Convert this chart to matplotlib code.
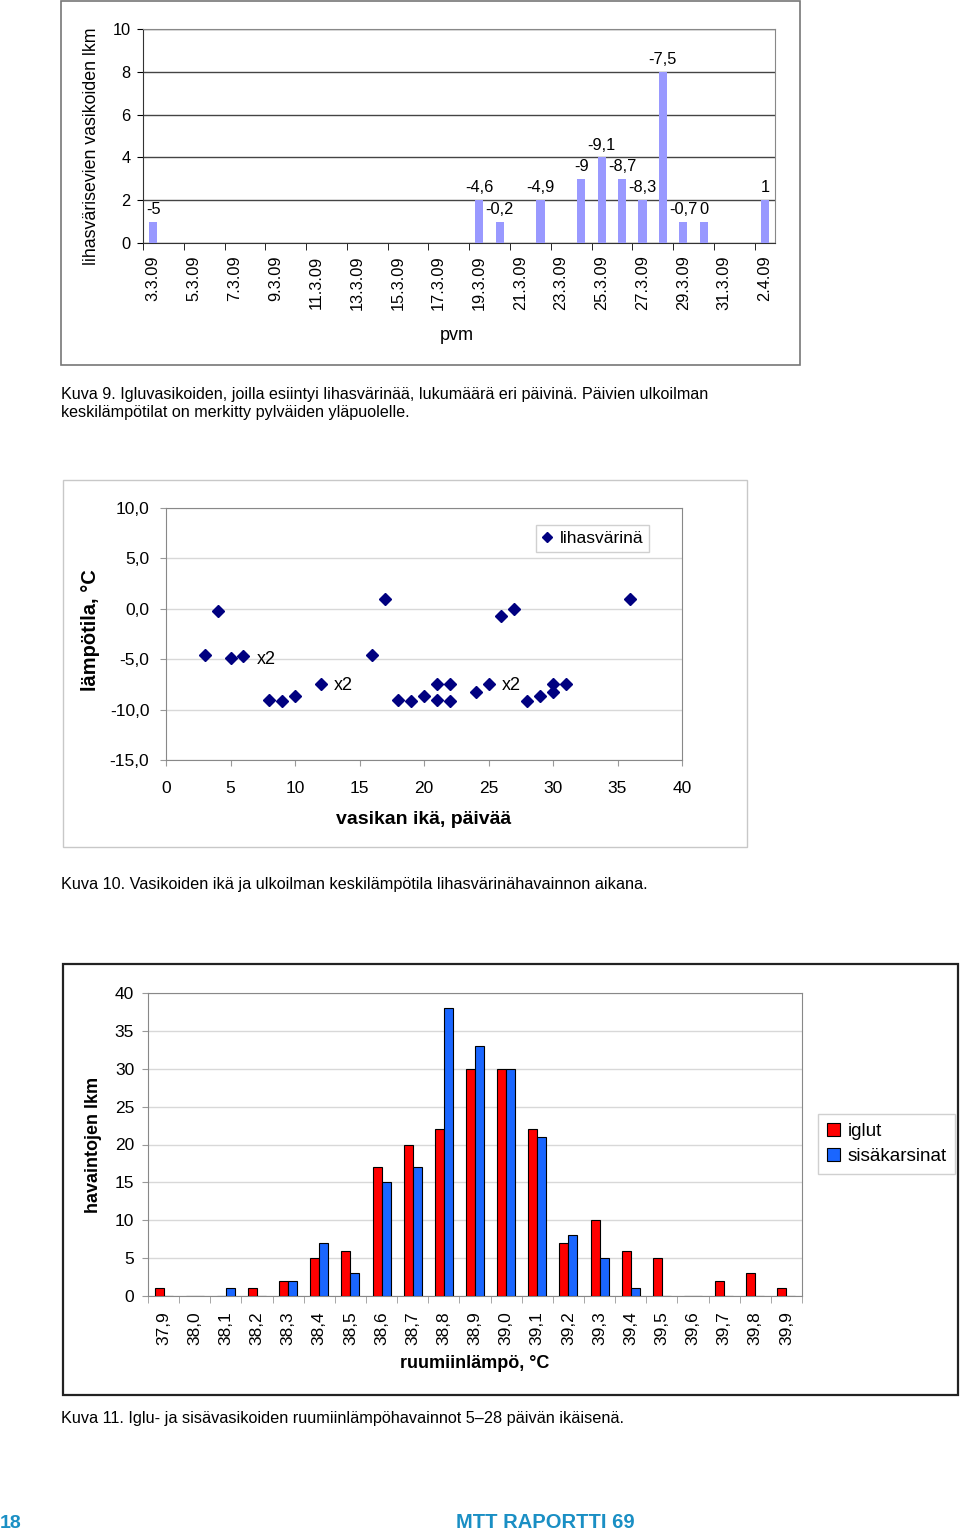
import numpy as np
import matplotlib
matplotlib.use("Agg")
import matplotlib.pyplot as plt
from matplotlib.patches import Rectangle

plt.rcParams['font.family'] = ['Liberation Sans', 'DejaVu Sans']

# --- Kuva 9: lihasvärisevät vasikat per päivä
dates = ['3.3.09', '4.3.09', '5.3.09', '6.3.09', '7.3.09', '8.3.09', '9.3.09',
         '10.3.09', '11.3.09', '12.3.09', '13.3.09', '14.3.09', '15.3.09',
         '16.3.09', '17.3.09', '18.3.09', '19.3.09', '20.3.09', '21.3.09',
         '22.3.09', '23.3.09', '24.3.09', '25.3.09', '26.3.09', '27.3.09',
         '28.3.09', '29.3.09', '30.3.09', '31.3.09', '1.4.09', '2.4.09']
counts = [1, 0, 0, 0, 0, 0, 0, 0, 0, 0, 0, 0, 0, 0, 0, 0, 2, 1, 0, 2,
          0, 3, 4, 3, 2, 8, 1, 1, 0, 0, 2]
temp_labels = ['-5', '', '', '', '', '', '', '', '', '', '', '', '', '', '', '',
               '-4,6', '-0,2', '', '-4,9', '', '-9', '-9,1', '-8,7', '-8,3',
               '-7,5', '-0,7', '0', '', '', '1']

# --- Kuva 10: ikä vs. lämpötila
age = [3, 4, 5, 6, 8, 9, 10, 12, 16, 17, 18, 19, 20, 21, 21, 22, 22, 24, 25,
       26, 27, 28, 29, 30, 30, 31, 36]
temp = [-4.6, -0.2, -4.9, -4.7, -9.0, -9.1, -8.7, -7.5, -4.6, 1.0, -9.0, -9.1,
        -8.7, -7.5, -9.0, -7.5, -9.1, -8.3, -7.5, -0.7, 0.0, -9.1, -8.7, -7.5,
        -8.3, -7.5, 1.0]
x2_marks = [(7.0, -5.0), (13.0, -7.6), (26.0, -7.6)]

# --- Kuva 11: ruumiinlämpö
body_temp = ['37,9', '38,0', '38,1', '38,2', '38,3', '38,4', '38,5', '38,6',
             '38,7', '38,8', '38,9', '39,0', '39,1', '39,2', '39,3', '39,4',
             '39,5', '39,6', '39,7', '39,8', '39,9']
iglut = [1, 0, 0, 1, 2, 5, 6, 17, 20, 22, 30, 30, 22, 7, 10, 6, 5, 0, 2, 3, 1]
sisa = [0, 0, 1, 0, 2, 7, 3, 15, 17, 38, 33, 30, 21, 8, 5, 1, 0, 0, 0, 0, 0]

W, H = 960, 1535
fig = plt.figure(figsize=(W / 100, H / 100), dpi=100)


def px_axes(l, t, r, b):
    return fig.add_axes([l / W, 1 - b / H, (r - l) / W, (b - t) / H])


def box(l, t, r, b, color, lw=1.0):
    fig.patches.append(Rectangle((l / W, 1 - b / H), (r - l) / W, (b - t) / H,
                                 transform=fig.transFigure, fill=False,
                                 edgecolor=color, lw=lw))


def ftext(x, y, s, **kw):
    fig.text(x / W, 1 - y / H, s, **kw)


# ---------------- chart 1
box(61, 1, 800, 365, '#777777', 1.2)
ax1 = px_axes(143, 29, 775, 243)
x = np.arange(len(dates))
ax1.bar(x, counts, width=0.4, color='#9999ff', zorder=3)
for xi, c, lab in zip(x, counts, temp_labels):
    if c > 0:
        ax1.annotate(lab, (xi, c), xytext=(0, 3.5), textcoords='offset points',
                     ha='center', va='bottom', fontsize=11.8)
ax1.set_xlim(-0.5, len(dates) - 0.5)
ax1.set_ylim(0, 10)
ax1.set_yticks(range(0, 11, 2))
ax1.yaxis.grid(True, color='#444444', lw=1)
ax1.set_axisbelow(True)
ax1.set_xticks(x[::2])
ax1.set_xticklabels(dates[::2], rotation=90, fontsize=11.8)
ax1.set_xticks(np.arange(-0.5, len(dates) - 1, 2), minor=True)
ax1.tick_params(axis='x', which='major', length=0, pad=9)
ax1.tick_params(axis='x', which='minor', length=5, direction='out')
ax1.tick_params(axis='y', labelsize=11.8, length=4, pad=5)
for s in ['top', 'right']:
    ax1.spines[s].set_color('#888888')
ax1.spines['left'].set_color('#333333')
ax1.spines['bottom'].set_color('#333333')
ftext(91, 146, 'lihasvärisevien vasikoiden lkm', rotation=90, ha='center',
      va='center', fontsize=12.8)
ftext(457, 335, 'pvm', ha='center', va='center', fontsize=13)
ftext(61, 394, 'Kuva 9. Igluvasikoiden, joilla esiintyi lihasvärinää, lukumäärä eri päivinä. '
      'Päivien ulkoilman', ha='left', va='center', fontsize=11.6)
ftext(61, 412, 'keskilämpötilat on merkitty pylväiden yläpuolelle.',
      ha='left', va='center', fontsize=11.6)

# ---------------- chart 2
box(63, 480, 747, 847, '#c8c8c8', 1.0)
ax2 = px_axes(166, 508, 682, 760)
ax2.plot(age, temp, 'D', color='#000080', markersize=6.5, label='lihasvärinä',
         zorder=3)
for xm, ym in x2_marks:
    ax2.text(xm, ym, 'x2', ha='left', va='center', fontsize=13)
ax2.set_xlim(0, 40)
ax2.set_ylim(-15, 10)
ax2.set_xticks(range(0, 41, 5))
ax2.set_yticks(range(-15, 11, 5))
ax2.set_yticklabels([f'{v:.1f}'.replace('.', ',') for v in range(-15, 11, 5)])
ax2.yaxis.grid(True, color='#d8d8d8', lw=1)
ax2.set_axisbelow(True)
ax2.tick_params(labelsize=12.5, length=4, color='#999999')
ax2.tick_params(axis='x', pad=11)
ax2.tick_params(axis='y', pad=8)
for s in ax2.spines.values():
    s.set_color('#888888')
ax2.legend(loc='upper left', bbox_to_anchor=(536 / W, 1 - 525 / H),
           bbox_transform=fig.transFigure, borderaxespad=0, fancybox=False,
           edgecolor='#d0d0d0', handlelength=0.6, handletextpad=0.4,
           borderpad=0.35, fontsize=12.5, framealpha=1, markerscale=0.85)
ftext(90, 630, 'lämpötila, °C', rotation=90, ha='center', va='center',
      fontsize=14.5, fontweight='bold')
ftext(424, 820, 'vasikan ikä, päivää', ha='center', va='center', fontsize=14,
      fontweight='bold')
ftext(61, 884, 'Kuva 10. Vasikoiden ikä ja ulkoilman keskilämpötila '
      'lihasvärinähavainnon aikana.', ha='left', va='center', fontsize=11.7)

# ---------------- chart 3
box(63, 964, 958, 1395, '#222222', 1.6)
ax3 = px_axes(148, 993, 802, 1296)
xb = np.arange(len(body_temp))
ax3.bar(xb - 0.145, iglut, width=0.29, color='#ff0000', edgecolor='black',
        lw=0.8, label='iglut', zorder=3)
ax3.bar(xb + 0.145, sisa, width=0.29, color='#1a66ff', edgecolor='black',
        lw=0.8, label='sisäkarsinat', zorder=3)
ax3.set_xlim(-0.5, len(body_temp) - 0.5)
ax3.set_ylim(0, 40)
ax3.set_yticks(range(0, 41, 5))
ax3.yaxis.grid(True, color='#d8d8d8', lw=1)
ax3.set_axisbelow(True)
ax3.set_xticks(xb)
ax3.set_xticklabels(body_temp, rotation=90, fontsize=12.5)
ax3.set_xticks(np.arange(-0.5, len(body_temp), 1), minor=True)
ax3.tick_params(axis='x', which='major', length=0, pad=11)
ax3.tick_params(axis='x', which='minor', length=5, color='#999999')
ax3.tick_params(axis='y', labelsize=12.5, length=4, pad=6, color='#999999')
for s in ax3.spines.values():
    s.set_color('#888888')
ax3.legend(loc='upper left', bbox_to_anchor=(818 / W, 1 - 1114 / H),
           bbox_transform=fig.transFigure, borderaxespad=0, fancybox=False,
           edgecolor='#d0d0d0', handlelength=0.7, handleheight=0.7,
           handletextpad=0.4, borderpad=0.45, labelspacing=0.45,
           fontsize=13.6, framealpha=1)
ftext(94, 1145, 'havaintojen lkm', rotation=90, ha='center', va='center',
      fontsize=13, fontweight='bold')
ftext(475, 1363, 'ruumiinlämpö, °C', ha='center', va='center', fontsize=13,
      fontweight='bold')
ftext(61, 1419, 'Kuva 11. Iglu- ja sisävasikoiden ruumiinlämpöhavainnot 5–28 '
      'päivän ikäisenä.', ha='left', va='center', fontsize=11.7)

# footer
ftext(0, 1523, '18', ha='left', va='center', fontsize=14, fontweight='bold',
      color='#1a8fc4')
ftext(545, 1523, 'MTT RAPORTTI 69', ha='center', va='center', fontsize=14.5,
      fontweight='bold', color='#1a8fc4')

fig.savefig('out.png', dpi=100)
